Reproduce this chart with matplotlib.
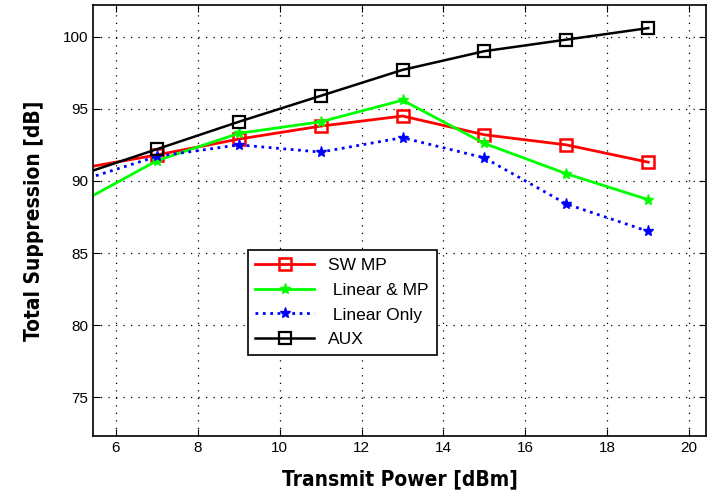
import matplotlib
matplotlib.use("Agg")
import matplotlib.pyplot as plt

# data (first point at 5 dBm is clipped by the axis)
power = [5, 7, 9, 11, 13, 15, 17, 19]
sw_mp = [90.8, 91.8, 92.9, 93.8, 94.5, 93.2, 92.5, 91.3]
linear_mp = [88.3, 91.4, 93.3, 94.1, 95.6, 92.6, 90.5, 88.7]
linear_only = [89.9, 91.7, 92.5, 92.0, 93.0, 91.6, 88.4, 86.5]
aux = [90.3, 92.2, 94.1, 95.9, 97.7, 99.0, 99.8, 100.6]

x_ticks = [6, 8, 10, 12, 14, 16, 18, 20]
y_ticks = [75, 80, 85, 90, 95, 100]

plt.rcParams['font.family'] = ['Liberation Sans', 'DejaVu Sans']

fig = plt.figure(figsize=(7.07, 5.03), dpi=100)
ax = fig.add_axes([0.132, 0.133, 0.866, 0.857])

ax.plot(power, sw_mp, color='red', linewidth=2, marker='s', markersize=9,
        markerfacecolor='none', markeredgewidth=1.8, label='SW MP')
ax.plot(power, linear_mp, color='#00ff00', linewidth=2, marker='*', markersize=8,
        label=' Linear & MP')
ax.plot(power, linear_only, color='blue', linewidth=2, linestyle=':', marker='*',
        markersize=8, label=' Linear Only')
ax.plot(power, aux, color='black', linewidth=1.8, marker='s', markersize=9,
        markerfacecolor='none', markeredgewidth=1.6, label='AUX')

ax.set_xlim(5.45, 20.4)
ax.set_ylim(72.3, 102.2)
ax.set_xticks(x_ticks)
ax.set_yticks(y_ticks)
ax.tick_params(direction='in', top=True, right=True, labelsize=11, length=5)
ax.grid(True, color='black', linestyle=(0, (1, 5)), linewidth=0.9)
for s in ax.spines.values():
    s.set_linewidth(1.2)

label_font = dict(family='DejaVu Sans', stretch='condensed', weight='bold', size=15)
ax.set_xlabel('Transmit Power [dBm]', labelpad=10, **label_font)
ax.set_ylabel('Total Suppression [dB]', labelpad=14, **label_font)

leg = ax.legend(loc='lower left', bbox_to_anchor=(0.252, 0.188), borderaxespad=0,
                fontsize=12.5, fancybox=False, framealpha=1, edgecolor='black',
                handlelength=3.4, borderpad=0.45, labelspacing=0.55)
leg.get_frame().set_linewidth(1.2)

fig.savefig('out.png', dpi=100)
